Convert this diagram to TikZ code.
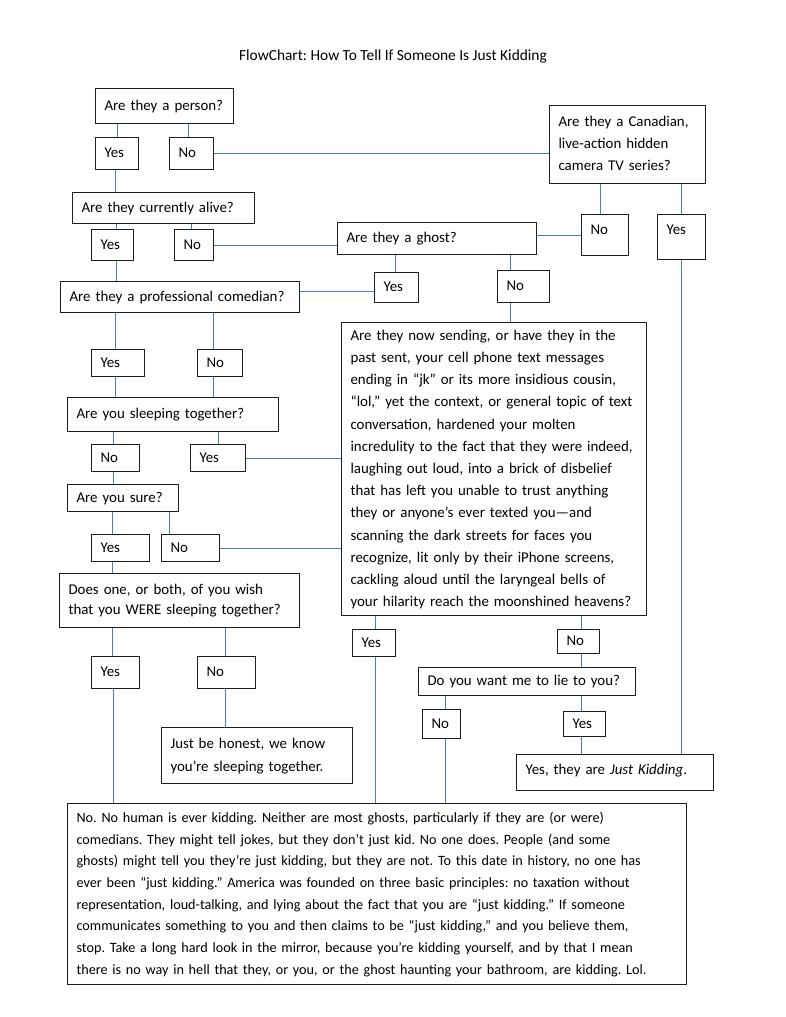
\documentclass[tikz,border=0pt]{standalone}
\usepackage{fontspec}
\setmainfont{Carlito}
\usepackage{xcolor}
\usetikzlibrary{calc}
\definecolor{linkBlue}{HTML}{4A7EBB}
\definecolor{boxDraw}{HTML}{1E1E1E}
\frenchspacing

\begin{document}
\begin{tikzpicture}[
  x=1pt, y=-1pt,
  font=\fontsize{14.9}{22}\selectfont,
  qbox/.style={draw=boxDraw, line width=1.1pt, anchor=north west, align=left,
               inner xsep=9pt, inner ysep=0pt,
               execute at begin node=\strut, execute at end node=\strut},
  sz/.style 2 args={/utils/exec={\pgfmathsetmacro\boxtw{#1-18}},
                    text width=\boxtw pt, minimum height=#2pt},
  link/.style={draw=linkBlue, line width=1.1pt},
]
\useasboundingbox (0,0) rectangle (786,1017);

% ---- Title ----
\node[font=\fontsize{15.4}{22}\selectfont] (title) at (393,56)
  {FlowChart: How To Tell If Someone Is Just Kidding};

% ---- Questions and answers (left column) ----
\node[qbox, sz={138}{35}] (person)   at (95,88)   {Are they a person?};
\node[qbox, sz={43}{32}]  (pyes)     at (95,137)  {Yes};
\node[qbox, sz={44}{32}]  (pno)      at (169,137) {No};
\node[qbox, sz={182}{31}] (alive)    at (72,192)  {Are they currently alive?};
\node[qbox, sz={42}{31}]  (ayes)     at (91,229)  {Yes};
\node[qbox, sz={39}{31}]  (ano)      at (174,229) {No};
\node[qbox, sz={239}{31}] (comedian) at (60,281)  {Are they a professional comedian?};
\node[qbox, sz={53}{27}]  (cmyes)    at (91,349)  {Yes};
\node[qbox, sz={45}{27}]  (cmno)     at (197,349) {No};
\node[qbox, sz={211}{34}] (sleep)    at (67,397)  {Are you sleeping together?};
\node[qbox, sz={48}{27}]  (sno)      at (91,444)  {No};
\node[qbox, sz={55}{27}]  (syes)     at (190,444) {Yes};
\node[qbox, sz={111}{27}] (sure)     at (67,484)  {Are you sure?};
\node[qbox, sz={58}{27}]  (sureyes)  at (91,534)  {Yes};
\node[qbox, sz={58}{27}]  (sureno)   at (161,534) {No};
\node[qbox, sz={240}{54}, font=\fontsize{14.9}{20.5}\selectfont] (wish) at (59,573)
  {Does one, or both, of you wish\\that you WERE sleeping together?};
\node[qbox, sz={48}{32}]  (wyes)     at (91,656)  {Yes};
\node[qbox, sz={58}{32}]  (wno)      at (197,656) {No};
\node[qbox, sz={191}{56}, font=\fontsize{14.9}{23}\selectfont] (honest) at (161,727)
  {Just be honest, we know\\you’re sleeping together.};

% ---- Right side ----
\node[qbox, sz={156}{78}] (canada)   at (549,105)
  {Are they a Canadian,\\live-action hidden\\camera TV series?};
\node[qbox, sz={47}{41}, text depth=15.8pt] (cno)  at (581,214) {No};
\node[qbox, sz={48}{45}, text depth=19.8pt] (cyes) at (657,214) {Yes};
\node[qbox, sz={199}{32}] (ghost)    at (337,222) {Are they a ghost?};
\node[qbox, sz={44}{30}]  (gyes)     at (374,272) {Yes};
\node[qbox, sz={52}{32}]  (gno)      at (497,270) {No};
\node[qbox, sz={305}{293}, font=\fontsize{14.9}{22.2}\selectfont] (bigq) at (341,322)
  {Are they now sending, or have they in the\\
   past sent, your cell phone text messages\\
   ending in “jk” or its more insidious cousin,\\
   “lol,” yet the context, or general topic of text\\
   conversation, hardened your molten\\
   incredulity to the fact that they were indeed,\\
   laughing out loud, into a brick of disbelief\\
   that has left you unable to trust anything\\
   they or anyone’s ever texted you—and\\
   scanning the dark streets for faces you\\
   recognize, lit only by their iPhone screens,\\
   cackling aloud until the laryngeal bells of\\
   your hilarity reach the moonshined heavens?};
\node[qbox, sz={43}{27}]  (byes)     at (352,629) {Yes};
\node[qbox, sz={42}{24}]  (bno)      at (557,629) {No};
\node[qbox, sz={217}{28}] (lie)      at (418,667) {Do you want me to lie to you?};
\node[qbox, sz={38}{29}]  (lno)      at (422,709) {No};
\node[qbox, sz={42}{25}]  (lyes)     at (563,711) {Yes};
\node[qbox, sz={197}{36}, text depth=11.4pt] (kidding) at (516,754)
  {Yes, they are \emph{Just Kidding}.};

% ---- Final answer ----
\node[qbox, sz={619}{181}, font=\fontsize{14.2}{21.7}\selectfont] (final) at (67,803)
  {No. No human is ever kidding. Neither are most ghosts, particularly if they are (or were)\\
   comedians. They might tell jokes, but they don’t just kid. No one does. People (and some\\
   ghosts) might tell you they’re just kidding, but they are not. To this date in history, no one has\\
   ever been “just kidding.” America was founded on three basic principles: no taxation without\\
   representation, loud-talking, and lying about the fact that you are “just kidding.” If someone\\
   communicates something to you and then claims to be “just kidding,” and you believe them,\\
   stop. Take a long hard look in the mirror, because you’re kidding yourself, and by that I mean\\
   there is no way in hell that they, or you, or the ghost haunting your bathroom, are kidding. Lol.};

% ---- Connectors, left column ----
\draw[link] (pyes.north) -- (pyes.north |- person.south);
\draw[link] ([xshift=-3pt]pno.north) -- ([xshift=-3pt]pno.north |- person.south);
\draw[link] (pno.east) -- (pno.east -| canada.west);
\draw[link] ([xshift=-1.5pt]pyes.south) -- ([xshift=-1.5pt]pyes.south |- alive.north);
\draw[link] ([xshift=4pt]ayes.north) -- ([xshift=4pt]ayes.north |- alive.south);
\draw[link] ([xshift=4pt]ayes.south) -- ([xshift=4pt]ayes.south |- comedian.north);
\draw[link] ([xshift=-3pt]ano.north) -- ([xshift=-3pt]ano.north |- alive.south);
\draw[link] (ano.east) -- (ano.east -| ghost.west);
\draw[link] ([yshift=-4pt]gyes.west) -- ([yshift=-4pt]gyes.west -| comedian.east);
\draw[link] ([xshift=-2.5pt]cmyes.north) -- ([xshift=-2.5pt]cmyes.north |- comedian.south);
\draw[link] ([xshift=-2.5pt]cmyes.south) -- ([xshift=-2.5pt]cmyes.south |- sleep.north);
\draw[link] ([xshift=-6.5pt]cmno.north) -- ([xshift=-6.5pt]cmno.north |- comedian.south);
\draw[link] ([xshift=-6.5pt]cmno.south) -- ([xshift=-6.5pt]cmno.south |- sleep.north);
\draw[link] ([xshift=-2pt]sno.north) -- ([xshift=-2pt]sno.north |- sleep.south);
\draw[link] ([xshift=-2pt]sno.south) -- ([xshift=-2pt]sno.south |- sure.north);
\draw[link] (syes.north) -- (syes.north |- sleep.south);
\draw[link] (syes.east) -- (syes.east -| bigq.west);
\draw[link] ([xshift=-8pt]sureyes.north) -- ([xshift=-8pt]sureyes.north |- sure.south);
\draw[link] ([xshift=-8pt]sureyes.south) -- ([xshift=-8pt]sureyes.south |- wish.north);
\draw[link] ([xshift=-21pt]sureno.north) -- ([xshift=-21pt]sureno.north |- sure.south);
\draw[link] (sureno.east) -- (sureno.east -| bigq.west);
\draw[link] ([xshift=-3pt]wyes.north) -- ([xshift=-3pt]wyes.north |- wish.south);
\draw[link] ([xshift=-2.5pt]wyes.south) -- ([xshift=-2.5pt]wyes.south |- final.north);
\draw[link] ([xshift=-1pt]wno.north) -- ([xshift=-1pt]wno.north |- wish.south);
\draw[link] ([xshift=-1pt]wno.south) -- ([xshift=-1pt]wno.south |- honest.north);

% ---- Connectors, right side ----
\draw[link] ([xshift=-5pt]cno.north) -- ([xshift=-5pt]cno.north |- canada.south);
\draw[link] (cno.west) -- (cno.west -| ghost.east);
\draw[link] (cyes.north) -- (cyes.north |- canada.south);
\draw[link] (cyes.south) -- (cyes.south |- kidding.north);
\draw[link] ([xshift=-1.5pt]gyes.north) -- ([xshift=-1.5pt]gyes.north |- ghost.south);
\draw[link] ([xshift=-13pt]gno.north) -- ([xshift=-13pt]gno.north |- ghost.south);
\draw[link] ([xshift=-13pt]gno.south) -- ([xshift=-13pt]gno.south |- bigq.north);
\draw[link] ([xshift=1.5pt]byes.north) -- ([xshift=1.5pt]byes.north |- bigq.south);
\draw[link] ([xshift=1.5pt]byes.south) -- ([xshift=1.5pt]byes.south |- final.north);
\draw[link] ([xshift=3pt]bno.north) -- ([xshift=3pt]bno.north |- bigq.south);
\draw[link] ([xshift=3pt]bno.south) -- ([xshift=3pt]bno.south |- lie.north);
\draw[link] ([xshift=4pt]lno.north) -- ([xshift=4pt]lno.north |- lie.south);
\draw[link] ([xshift=4pt]lno.south) -- ([xshift=4pt]lno.south |- final.north);
\draw[link] ([xshift=-3pt]lyes.north) -- ([xshift=-3pt]lyes.north |- lie.south);
\draw[link] ([xshift=-3pt]lyes.south) -- ([xshift=-3pt]lyes.south |- kidding.north);

\end{tikzpicture}
\end{document}
